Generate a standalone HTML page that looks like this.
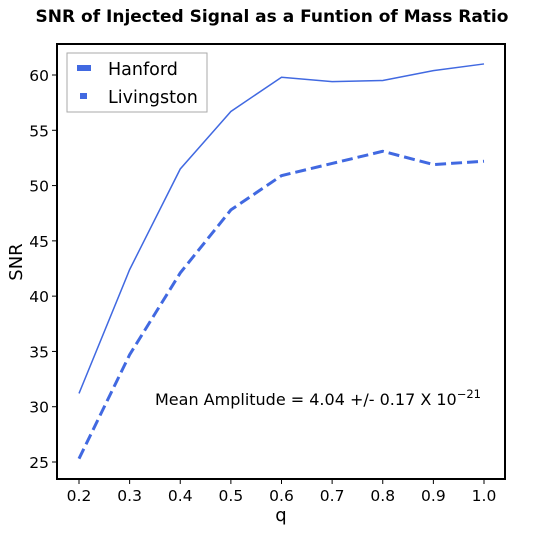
<!DOCTYPE html>
<html><head><meta charset="utf-8"><style>
body{margin:0;background:#fff;}
svg text{font-family:"DejaVu Sans","Liberation Sans",sans-serif;}
</style></head><body>
<svg id="chart" width="537" height="532" xmlns="http://www.w3.org/2000/svg">
<text x="272" y="22" text-anchor="middle" font-size="17" font-weight="bold">SNR of Injected Signal as a Funtion of Mass Ratio</text>
<g id="grid"></g>
<rect x="57" y="44" width="448" height="435" fill="none" stroke="#000" stroke-width="2"/>
<text x="281" y="521" text-anchor="middle" font-size="18">q</text>
<text x="22" y="262" text-anchor="middle" font-size="18" transform="rotate(-90 22 262)">SNR</text>
<text x="155" y="405" font-size="16">Mean Amplitude = 4.04 +/- 0.17 X 10<tspan dy="-7" font-size="11.5">−21</tspan></text>
<g>
<rect x="67" y="53" width="140" height="59" fill="#fff" stroke="#aaa"/>
<rect x="77" y="65" width="14" height="6" fill="#4169e1"/>
<text x="108" y="75" font-size="17.5">Hanford</text>
<rect x="80" y="93" width="7" height="6" fill="#4169e1"/>
<text x="108" y="103" font-size="17.5">Livingston</text>
</g>
</svg>
<script>
const qValues=[0.2,0.3,0.4,0.5,0.6,0.7,0.8,0.9,1.0];
const hanford=[31.2,42.4,51.5,56.7,59.8,59.4,59.5,60.4,61.0];
const livingston=[25.3,34.7,42.1,47.8,50.9,52.0,53.1,51.9,52.2];
const yTicks=[25,30,35,40,45,50,55,60];
const xTicks=[0.2,0.3,0.4,0.5,0.6,0.7,0.8,0.9,1.0];
const ns="http://www.w3.org/2000/svg";
const svg=document.getElementById('chart');
const g=document.getElementById('grid');
function xs(v){return 79+(v-0.2)/0.8*405;}
function ys(v){return 462-(v-25)/35*387;}
function mk(t,a){const e=document.createElementNS(ns,t);for(const k in a)e.setAttribute(k,a[k]);return e;}
xTicks.forEach(v=>{
 const l=mk('line',{x1:xs(v),x2:xs(v),y1:479,y2:484,stroke:'#000'});
 
 
 g.appendChild(l);
 const t=mk('text',{x:xs(v),y:501,'text-anchor':'middle','font-size':'15.5'});
 
 
 t.textContent=v.toFixed(1);g.appendChild(t);
});
yTicks.forEach(v=>{
 const l=mk('line',{x1:52,x2:57,y1:ys(v),y2:ys(v),stroke:'#000'});
 
 
 g.appendChild(l);
 const t=mk('text',{x:49,y:ys(v)+6,'text-anchor':'end','font-size':'15.5'});
 
 
 t.textContent=v;g.appendChild(t);
});
function pts(arr){return arr.map((v,i)=>xs(qValues[i])+','+ys(v)).join(' ');}
const h=mk('polyline',{points:pts(hanford),fill:'none',stroke:'#4169e1','stroke-width':'1.5'});


g.appendChild(h);
const lv=mk('polyline',{points:pts(livingston),fill:'none',stroke:'#4169e1','stroke-width':'3','stroke-dasharray':'11,5'});


g.appendChild(lv);
</script>
</body></html>
